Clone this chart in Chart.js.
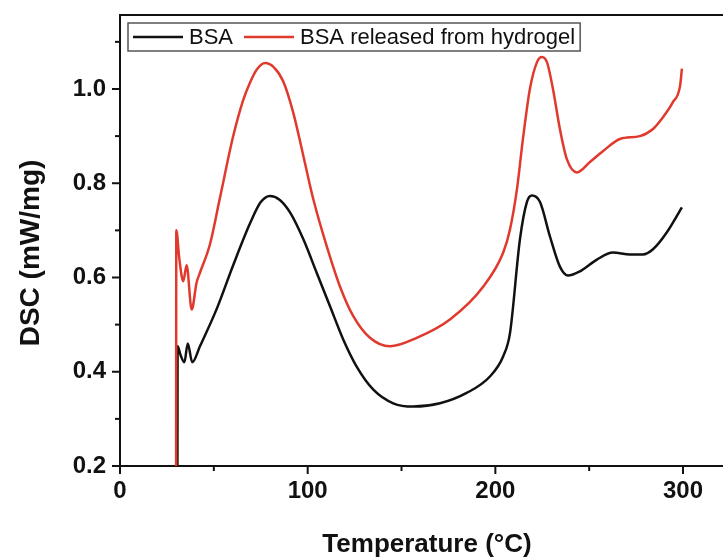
<!DOCTYPE html>
<html>
<head>
<meta charset="utf-8">
<script src="https://cdn.jsdelivr.net/npm/chart.js@4"></script>
<style>
  html, body { margin: 0; padding: 0; background: #fff; }
  #wrap { width: 723px; height: 560px; }
</style>
</head>
<body>
<div id="wrap"><canvas id="dsc"></canvas></div>
<script>
// BSA (black)
const tempBSA = [30.6, 30.7, 32.3, 34.3, 36.1, 38.5, 42.6, 51.7, 60.2, 69.3, 75.0, 79.9, 85.0, 90.6, 97.7, 104.8, 111.9, 119.0, 126.1, 135.0, 145.6, 156.3, 170.5, 184.7, 197.1, 204.2, 207.8, 213.1, 216.8, 219.5, 223.8, 229.1, 234.4, 238.7, 245.1, 254.1, 262.7, 271.7, 278.6, 284.0, 291.4, 299.4]
const dscBSA = [0.200, 0.454, 0.435, 0.420, 0.460, 0.420, 0.454, 0.535, 0.625, 0.715, 0.760, 0.773, 0.765, 0.738, 0.681, 0.610, 0.539, 0.468, 0.411, 0.362, 0.333, 0.326, 0.333, 0.355, 0.390, 0.433, 0.482, 0.681, 0.760, 0.774, 0.760, 0.687, 0.623, 0.604, 0.613, 0.638, 0.653, 0.649, 0.649, 0.660, 0.696, 0.749]

// BSA released from hydrogel (red)
const tempReleased = [29.9, 30.0, 31.6, 33.7, 35.5, 38.2, 40.8, 42.6, 47.9, 53.3, 60.2, 65.5, 69.3, 73.0, 77.3, 82.0, 87.0, 92.3, 97.7, 103.0, 110.1, 117.2, 124.3, 133.2, 143.8, 158.1, 175.8, 193.6, 204.2, 207.8, 211.5, 214.7, 218.4, 222.2, 224.8, 227.5, 230.7, 234.4, 238.1, 243.5, 250.4, 257.3, 266.4, 277.0, 284.0, 289.3, 294.6, 298.4, 299.4]
const dscReleased = [0.200, 0.700, 0.640, 0.592, 0.626, 0.532, 0.589, 0.610, 0.670, 0.770, 0.898, 0.975, 1.014, 1.042, 1.055, 1.046, 1.016, 0.950, 0.858, 0.766, 0.667, 0.581, 0.518, 0.472, 0.454, 0.472, 0.511, 0.581, 0.653, 0.702, 0.787, 0.894, 1.000, 1.057, 1.068, 1.057, 1.000, 0.915, 0.851, 0.823, 0.845, 0.868, 0.894, 0.900, 0.915, 0.940, 0.972, 1.006, 1.043]

const seriesNames = ['BSA', 'BSA released from hydrogel']
const seriesColors = ['#111111', '#e03a2e']

const xTicks = [0, 50, 100, 150, 200, 250, 300]
const xLabelled = [0, 100, 200, 300]
const yTicks = [0.2, 0.3, 0.4, 0.5, 0.6, 0.7, 0.8, 0.9, 1.0, 1.1]
const yLabelled = [0.2, 0.4, 0.6, 0.8, 1.0]

const xTitle = 'Temperature (°C)'
const yTitle = 'DSC (mW/mg)'

const FONT = "'Liberation Sans', Arial, sans-serif"
const toPoints = (xs, ys) => xs.map((x, i) => ({ x: x, y: ys[i] }))
const isLabelled = (list, v) => list.some(t => Math.abs(t - v) < 1e-6)

// tick marks (long for labelled, short for minor), top frame line, axis titles and inner legend
const framePlugin = {
  id: 'frame',
  afterDraw(chart) {
    const ctx = chart.ctx
    const area = chart.chartArea
    const xs = chart.scales.x
    const ys = chart.scales.y
    ctx.save()
    ctx.strokeStyle = '#111'
    ctx.lineWidth = 2
    xs.ticks.forEach(t => {
      const px = xs.getPixelForValue(t.value)
      const len = isLabelled(xLabelled, t.value) ? 8 : 5
      ctx.beginPath()
      ctx.moveTo(px, area.bottom)
      ctx.lineTo(px, area.bottom + len)
      ctx.stroke()
    })
    ys.ticks.forEach(t => {
      const py = ys.getPixelForValue(t.value)
      const len = isLabelled(yLabelled, t.value) ? 8 : 5
      ctx.beginPath()
      ctx.moveTo(area.left, py)
      ctx.lineTo(area.left - len, py)
      ctx.stroke()
    })
    ctx.beginPath()
    ctx.moveTo(area.left - 1, area.top)
    ctx.lineTo(area.right, area.top)
    ctx.stroke()

    // axis titles
    ctx.fillStyle = '#111'
    ctx.textAlign = 'center'
    ctx.textBaseline = 'middle'
    ctx.font = 'bold 26px ' + FONT
    ctx.fillText(xTitle, area.left + 307, area.bottom + 79)
    ctx.save()
    ctx.translate(area.left - 89, area.top + 238)
    ctx.rotate(-Math.PI / 2)
    ctx.font = 'bold 28px ' + FONT
    ctx.fillText(yTitle, 0, 0)
    ctx.restore()

    // legend box
    ctx.textAlign = 'left'
    const bx = area.left + 8, by = area.top + 8, bh = 28
    ctx.font = '22px ' + FONT
    let x = bx + 5
    const parts = []
    seriesNames.forEach((name, i) => {
      parts.push({ x0: x, x1: x + 50, tx: x + 56, name: name, color: seriesColors[i] })
      x = x + 56 + ctx.measureText(name).width + 11
    })
    const bw = x - bx - 6
    ctx.fillStyle = '#fff'
    ctx.fillRect(bx, by, bw, bh)
    ctx.strokeStyle = '#555'
    ctx.lineWidth = 1.5
    ctx.strokeRect(bx, by, bw, bh)
    parts.forEach(p => {
      ctx.strokeStyle = p.color
      ctx.lineWidth = 2.5
      ctx.beginPath()
      ctx.moveTo(p.x0, by + bh / 2)
      ctx.lineTo(p.x1, by + bh / 2)
      ctx.stroke()
      ctx.fillStyle = '#111'
      ctx.fillText(p.name, p.tx, by + bh / 2 + 1)
    })
    ctx.restore()
  }
}

const ctx = document.getElementById('dsc').getContext('2d')
const chart = new Chart(ctx, {
  type: 'line',
  data: {
    datasets: [{
      label: seriesNames[0],
      data: toPoints(tempBSA, dscBSA),
      borderColor: seriesColors[0],
      borderWidth: 2.5,
      pointRadius: 0,
      cubicInterpolationMode: 'monotone',
      order: 1
    }, {
      label: seriesNames[1],
      data: toPoints(tempReleased, dscReleased),
      borderColor: seriesColors[1],
      borderWidth: 2.5,
      pointRadius: 0,
      cubicInterpolationMode: 'monotone',
      order: 0
    }]
  },
  options: {
    responsive: true,
    maintainAspectRatio: false,
    animation: false,
    layout: { padding: { top: 15, right: 0, left: 0, bottom: 0 } },
    plugins: { legend: { display: false }, tooltip: { enabled: false } },
    scales: {
      x: {
        type: 'linear',
        min: 0,
        max: 321.3,
        afterFit: s => { s.height = 94; s.paddingLeft = 0; s.paddingRight = 0 },
        afterBuildTicks: s => { s.ticks = xTicks.map(v => ({ value: v })) },
        grid: { display: false, drawTicks: false },
        border: { display: true, color: '#111', width: 2 },
        ticks: {
          padding: 11,
          color: '#111',
          font: { family: FONT, size: 24, weight: 'bold' },
          maxRotation: 0,
          autoSkip: false,
          callback: v => isLabelled(xLabelled, v) ? String(v) : ''
        },
        title: { display: false }
      },
      y: {
        type: 'linear',
        min: 0.2,
        max: 1.157,
        afterFit: s => { s.width = 120; s.paddingTop = 0; s.paddingBottom = 0 },
        afterBuildTicks: s => { s.ticks = yTicks.map(v => ({ value: v })) },
        grid: { display: false, drawTicks: false },
        border: { display: true, color: '#111', width: 2 },
        ticks: {
          padding: 14,
          color: '#111',
          font: { family: FONT, size: 24, weight: 'bold' },
          autoSkip: false,
          callback: v => isLabelled(yLabelled, v) ? v.toFixed(1) : ''
        },
        title: { display: false }
      }
    }
  },
  plugins: [framePlugin]
})
</script>
</body>
</html>
